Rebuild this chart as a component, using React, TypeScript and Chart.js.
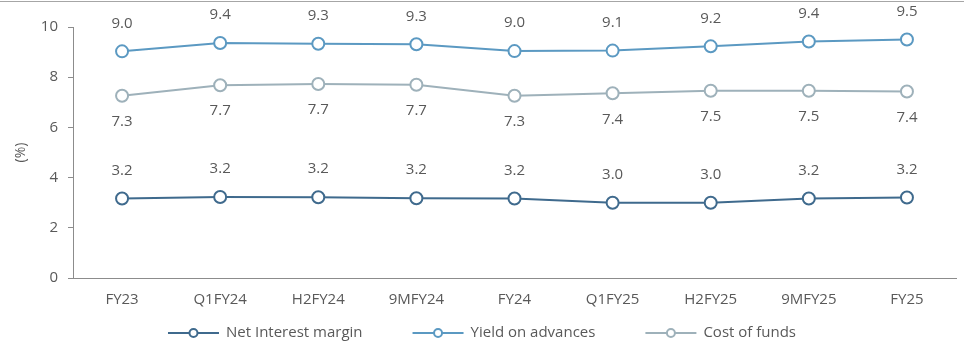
import React, { useEffect, useRef } from "react";
import { Chart, registerables } from "chart.js";

Chart.register(...registerables);

const categories = ["FY23", "Q1FY24", "H2FY24", "9MFY24", "FY24", "Q1FY25", "H2FY25", "9MFY25", "FY25"];
const netInterestMargin = [3.17, 3.23, 3.22, 3.18, 3.17, 3.0, 3.0, 3.17, 3.21];
const yieldOnAdvances = [9.03, 9.36, 9.33, 9.31, 9.04, 9.06, 9.23, 9.42, 9.5];
const costOfFunds = [7.26, 7.68, 7.73, 7.7, 7.26, 7.36, 7.46, 7.46, 7.43];
const nimLabels = ["3.2", "3.2", "3.2", "3.2", "3.2", "3.0", "3.0", "3.2", "3.2"];
const yieldLabels = ["9.0", "9.4", "9.3", "9.3", "9.0", "9.1", "9.2", "9.4", "9.5"];
const costLabels = ["7.3", "7.7", "7.7", "7.7", "7.3", "7.4", "7.5", "7.5", "7.4"];
const yTicks = [0, 2, 4, 6, 8, 10];

const FONT = "'Open Sans', sans-serif";
const TEXT = "#595959";
const AXIS = "#8c8c8c";

const C_NIM = "#3f6a8d";
const C_YIELD = "#5b99c2";
const C_COST = "#9eb1ba";

const labelSets = [nimLabels, yieldLabels, costLabels];
const labelOffsets = [-28, -28, 26];

const dataLabelPlugin = {
  id: "dataLabels",
  afterDatasetsDraw(chart: any) {
    const ctx = chart.ctx;
    ctx.save();
    ctx.font = `15px ${FONT}`;
    ctx.fillStyle = TEXT;
    ctx.textAlign = "center";
    ctx.textBaseline = "middle";
    chart.data.datasets.forEach((ds: any, i: number) => {
      const meta = chart.getDatasetMeta(i);
      meta.data.forEach((pt: any, j: number) => {
        ctx.fillText(labelSets[i][j], pt.x, pt.y + labelOffsets[i]);
      });
    });
    ctx.restore();
  },
};

const framePlugin = {
  id: "frame",
  beforeDraw(chart: any) {
    const ctx = chart.ctx;
    ctx.save();
    ctx.strokeStyle = "#a6a6a6";
    ctx.lineWidth = 1;
    ctx.beginPath();
    ctx.moveTo(0, 1.5);
    ctx.lineTo(chart.width, 1.5);
    ctx.stroke();
    ctx.restore();
  },
};

const legendPlugin = {
  id: "customLegend",
  afterDraw(chart: any) {
    const ctx = chart.ctx;
    ctx.save();
    ctx.font = `15px ${FONT}`;
    const lineLen = 51;
    const gap = 7;
    const spacing = 50;
    const items = chart.data.datasets.map((ds: any) => ({
      text: ds.label,
      color: ds.borderColor,
      w: lineLen + gap + ctx.measureText(ds.label).width,
    }));
    const total = items.reduce((s: number, it: any) => s + it.w, 0) + spacing * (items.length - 1);
    let x = chart.width / 2 - total / 2;
    const y = 333;
    items.forEach((it: any) => {
      ctx.strokeStyle = it.color;
      ctx.lineWidth = 2;
      ctx.beginPath();
      ctx.moveTo(x, y);
      ctx.lineTo(x + lineLen, y);
      ctx.stroke();
      ctx.beginPath();
      ctx.arc(x + lineLen / 2, y, 4, 0, Math.PI * 2);
      ctx.fillStyle = "#ffffff";
      ctx.fill();
      ctx.stroke();
      ctx.fillStyle = TEXT;
      ctx.textAlign = "left";
      ctx.textBaseline = "middle";
      ctx.fillText(it.text, x + lineLen + gap, y);
      x += it.w + spacing;
    });
    ctx.restore();
  },
};

function mkDataset(label: string, data: number[], color: string) {
  return {
    label,
    data,
    borderColor: color,
    backgroundColor: "#ffffff",
    borderWidth: 2,
    pointRadius: 6,
    pointBorderWidth: 2,
    pointBackgroundColor: "#ffffff",
    pointBorderColor: color,
    tension: 0,
  };
}

export default function App() {
  const ref = useRef<HTMLCanvasElement>(null);
  useEffect(() => {
    document.body.style.margin = "0";
    const chart = new Chart(ref.current!, {
      type: "line",
      data: {
        labels: categories,
        datasets: [
          mkDataset("Net Interest margin", netInterestMargin, C_NIM),
          mkDataset("Yield on advances", yieldOnAdvances, C_YIELD),
          mkDataset("Cost of funds", costOfFunds, C_COST),
        ],
      },
      options: {
        animation: false,
        responsive: false,
        devicePixelRatio: 1,
        layout: { padding: { top: 27, right: 4, left: 0, bottom: 0 } },
        plugins: {
          legend: { display: false },
          tooltip: { enabled: false },
        },
        scales: {
          x: {
            offset: true,
            grid: { display: false, drawTicks: false },
            border: { display: true, color: AXIS, width: 1 },
            ticks: { color: TEXT, font: { family: FONT, size: 15 }, padding: 13, maxRotation: 0, autoSkip: false },
            afterFit(scale: any) {
              scale.height = 64;
            },
          },
          y: {
            min: 0,
            max: 10,
            afterBuildTicks(scale: any) {
              scale.ticks = yTicks.map((v) => ({ value: v }));
            },
            grid: { drawOnChartArea: false, drawTicks: true, tickLength: 5, color: AXIS },
            border: { display: true, color: AXIS, width: 1 },
            ticks: { color: TEXT, font: { family: FONT, size: 15 }, padding: 10 },
            title: {
              display: true,
              text: "(%)",
              color: TEXT,
              font: { family: FONT, size: 14 },
              padding: { top: 13, bottom: 4 },
            },
            afterFit(scale: any) {
              scale.width = 73;
            },
          },
        },
      },
      plugins: [framePlugin, dataLabelPlugin, legendPlugin],
    });
    return () => chart.destroy();
  }, []);
  return <canvas ref={ref} width={964} height={342} style={{ display: "block" }} />;
}
